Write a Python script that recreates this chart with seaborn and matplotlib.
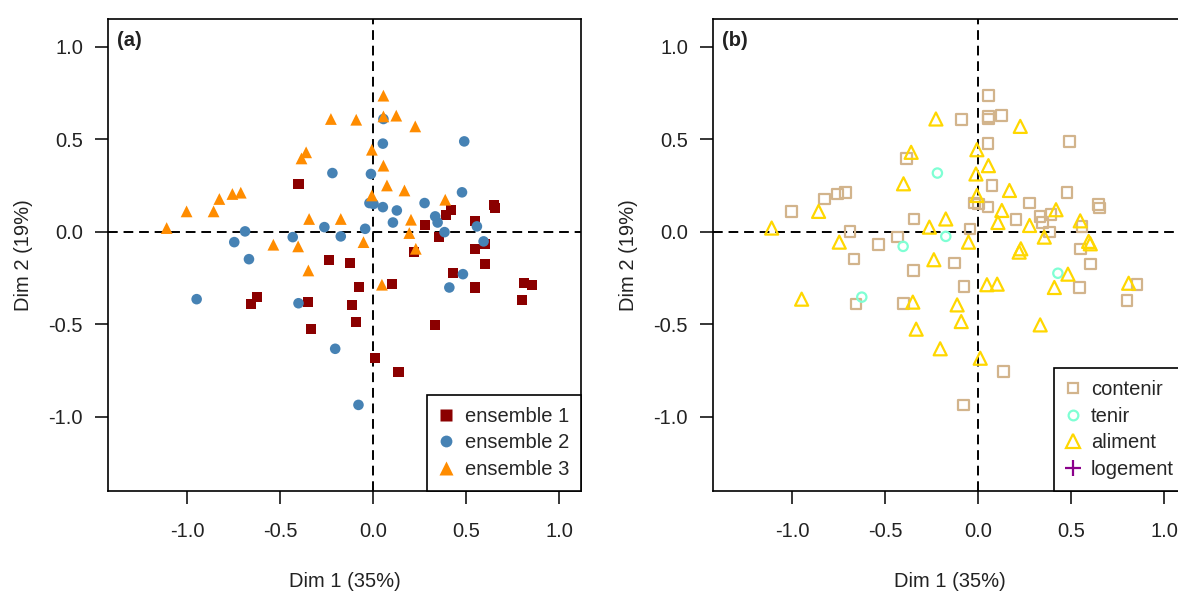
import matplotlib
matplotlib.use("Agg")
import matplotlib.pyplot as plt
from matplotlib.lines import Line2D
from matplotlib.ticker import FormatStrFormatter
import pandas as pd
import seaborn as sns

sns.set_style("ticks")
plt.rcParams['font.family'] = ['Liberation Sans', 'DejaVu Sans']
plt.rcParams['axes.unicode_minus'] = False

# ensemble 1 (filled squares)
e1_x = [-0.656, -0.625, -0.401, -0.351, -0.333, -0.238, -0.127, -0.113, -0.091, -0.077,
        0.011, 0.102, 0.136, 0.220, 0.276, 0.333, 0.355, 0.392, 0.418, 0.428,
        0.545, 0.548, 0.548, 0.602, 0.602, 0.647, 0.652, 0.799, 0.808, 0.853]
e1_y = [-0.391, -0.353, 0.259, -0.380, -0.526, -0.151, -0.169, -0.395, -0.485, -0.296,
        -0.683, -0.283, -0.755, -0.110, 0.034, -0.503, -0.029, 0.092, 0.119, -0.224,
        -0.301, 0.059, -0.094, -0.065, -0.175, 0.146, 0.128, -0.371, -0.278, -0.286]
e1_sens = ['contenir', 'tenir', 'aliment', 'aliment', 'aliment', 'aliment', 'contenir', 'aliment', 'aliment', 'contenir',
           'aliment', 'aliment', 'contenir', 'aliment', 'aliment', 'aliment', 'aliment', 'contenir', 'aliment', 'tenir',
           'contenir', 'aliment', 'contenir', 'aliment', 'contenir', 'contenir', 'contenir', 'contenir', 'aliment', 'contenir']

# ensemble 2 (filled circles)
e2_x = [-0.948, -0.746, -0.688, -0.667, -0.432, -0.401, -0.262, -0.219, -0.204, -0.174,
        -0.079, -0.043, -0.020, -0.012, 0.002, 0.052, 0.055, 0.052, 0.106, 0.127,
        0.276, 0.333, 0.346, 0.383, 0.409, 0.477, 0.482, 0.489, 0.557, 0.593]
e2_y = [-0.364, -0.056, 0.002, -0.148, -0.029, -0.386, 0.025, 0.317, -0.632, -0.025,
        -0.935, 0.016, 0.155, 0.312, 0.150, 0.476, 0.609, 0.133, 0.050, 0.115,
        0.155, 0.083, 0.050, -0.002, -0.301, 0.213, -0.229, 0.488, 0.029, -0.052]
e2_sens = ['aliment', 'aliment', 'contenir', 'contenir', 'contenir', 'contenir', 'aliment', 'tenir', 'aliment', 'tenir',
           'contenir', 'contenir', 'contenir', 'aliment', 'contenir', 'contenir', 'contenir', 'contenir', 'aliment', 'aliment',
           'contenir', 'contenir', 'contenir', 'contenir', 'aliment', 'contenir', 'aliment', 'contenir', 'contenir', 'aliment']

# ensemble 3 (filled triangles)
e3_x = [-1.109, -1.002, -0.857, -0.826, -0.756, -0.711, -0.536, -0.403, -0.385, -0.360,
        -0.344, -0.348, -0.227, -0.174, -0.091, -0.052, -0.007, -0.007, 0.055, 0.055,
        0.055, 0.074, 0.047, 0.124, 0.168, 0.203, 0.194, 0.226, 0.229, 0.387]
e3_y = [0.020, 0.110, 0.110, 0.177, 0.204, 0.211, -0.070, -0.079, 0.396, 0.429,
        0.069, -0.209, 0.609, 0.069, 0.605, -0.056, 0.443, 0.196, 0.735, 0.623,
        0.357, 0.250, -0.286, 0.627, 0.223, 0.065, -0.007, 0.569, -0.092, 0.173]
e3_sens = ['aliment', 'contenir', 'aliment', 'contenir', 'contenir', 'contenir', 'contenir', 'tenir', 'contenir', 'aliment',
           'contenir', 'contenir', 'aliment', 'aliment', 'contenir', 'aliment', 'aliment', 'aliment', 'contenir', 'contenir',
           'aliment', 'contenir', 'aliment', 'contenir', 'aliment', 'contenir', 'logement', 'aliment', 'aliment', 'logement']

ensembles = ['ensemble 1', 'ensemble 2', 'ensemble 3']
sens_levels = ['contenir', 'tenir', 'aliment', 'logement']

df = pd.DataFrame({
    'dim1': e1_x + e2_x + e3_x,
    'dim2': e1_y + e2_y + e3_y,
    'ensemble': ['ensemble 1'] * len(e1_x) + ['ensemble 2'] * len(e2_x) + ['ensemble 3'] * len(e3_x),
    'sens': e1_sens + e2_sens + e3_sens,
})

pal_a = {'ensemble 1': '#8B0000', 'ensemble 2': '#4682B4', 'ensemble 3': '#FF8C00'}
mk_a = {'ensemble 1': 's', 'ensemble 2': 'o', 'ensemble 3': '^'}
sz_a = {'ensemble 1': 52, 'ensemble 2': 58, 'ensemble 3': 72}

pal_b = {'contenir': '#D2B48C', 'tenir': '#7FFFD4', 'aliment': '#FFD700', 'logement': '#8B008B'}
mk_b = {'contenir': 's', 'tenir': 'o', 'aliment': '^', 'logement': '+'}
sz_b = {'contenir': 58, 'tenir': 45, 'aliment': 88, 'logement': 100}

FS = 14.5
W, H = 1178, 592
fig = plt.figure(figsize=(W / 100, H / 100), dpi=100)
ax_a = fig.add_axes([108 / W, 1 - 491 / H, 473 / W, 472 / H])
ax_b = fig.add_axes([713 / W, 1 - 491 / H, 473 / W, 472 / H])

# panel (a): filled markers coloured by ensemble
sns.scatterplot(data=df, x='dim1', y='dim2', hue='ensemble', style='ensemble', size='ensemble',
                palette=pal_a, markers=mk_a, sizes=sz_a, hue_order=ensembles,
                edgecolor='none', legend=False, ax=ax_a, zorder=3)

# panel (b): open markers coloured by sense
for s in sens_levels:
    sub = df[df['sens'] == s]
    sns.scatterplot(data=sub, x='dim1', y='dim2', marker=mk_b[s], s=sz_b[s],
                    color=pal_b[s], facecolor='none', edgecolor=pal_b[s],
                    linewidth=1.6, legend=False, ax=ax_b, zorder=3)

ticks = [-1.0, -0.5, 0.0, 0.5, 1.0]
for ax, tag in [(ax_a, '(a)'), (ax_b, '(b)')]:
    ax.set_xlim(-1.424, 1.116)
    ax.set_ylim(-1.40, 1.149)
    ax.axhline(0, color='black', lw=1.4, ls=(0, (5, 3)), zorder=1)
    ax.axvline(0, color='black', lw=1.4, ls=(0, (5, 3)), zorder=1)
    ax.set_xticks(ticks)
    ax.set_yticks(ticks)
    ax.xaxis.set_major_formatter(FormatStrFormatter('%.1f'))
    ax.yaxis.set_major_formatter(FormatStrFormatter('%.1f'))
    ax.tick_params(direction='out', length=9.5, width=1.1, labelsize=FS, color='black', labelcolor='#222222')
    ax.tick_params(axis='x', pad=12.5)
    ax.tick_params(axis='y', pad=8.5)
    for sp in ax.spines.values():
        sp.set_linewidth(1.2)
        sp.set_color('black')
    ax.set_xlabel('Dim 1 (35%)', fontsize=FS, color='#222222')
    ax.set_ylabel('Dim 2 (19%)', fontsize=FS, color='#222222')
    ax.xaxis.set_label_coords(0.5, -0.172)
    ax.xaxis.label.set_va('top')
    ax.yaxis.set_label_coords(-0.158, 0.5)
    ax.text(0.02, 0.975, tag, transform=ax.transAxes, ha='left', va='top',
            fontsize=FS, fontweight='bold', color='#222222')

leg_kw = dict(loc='lower right', borderaxespad=0, frameon=True, fancybox=False,
              edgecolor='black', framealpha=1, fontsize=FS, borderpad=0.6,
              handlelength=0.7, handletextpad=0.55, labelspacing=0.38)

handles_a = [Line2D([], [], ls='', marker=mk_a[e], color=pal_a[e], markeredgecolor='none',
                    markersize=8.5 if e != 'ensemble 3' else 9.5) for e in ensembles]
leg_a = ax_a.legend(handles_a, ensembles, **leg_kw)
leg_a.get_frame().set_linewidth(1.2)

handles_b = [Line2D([], [], ls='', marker=mk_b[s], color=pal_b[s], markerfacecolor='none',
                    markeredgecolor=pal_b[s], markeredgewidth=1.6,
                    markersize={'contenir': 7.5, 'tenir': 7, 'aliment': 9.5, 'logement': 11}[s])
             for s in sens_levels]
leg_b = ax_b.legend(handles_b, sens_levels, **leg_kw)
leg_b.get_frame().set_linewidth(1.2)

fig.savefig('out.png', dpi=100)
